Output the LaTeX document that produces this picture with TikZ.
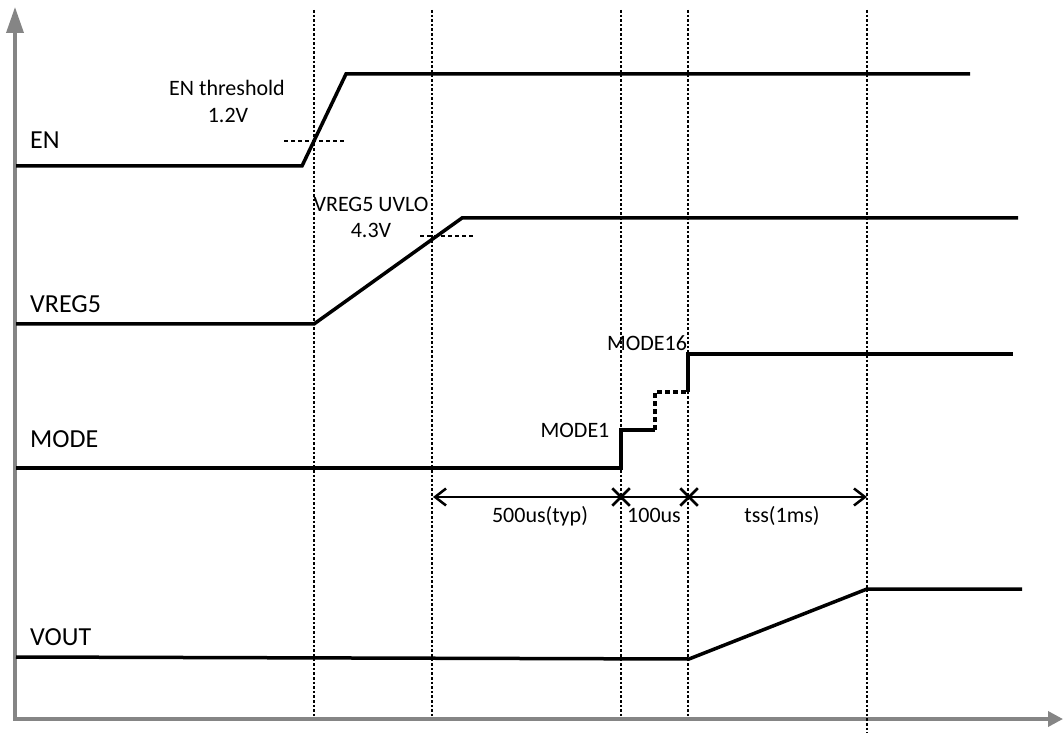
\documentclass[tikz,border=0pt]{standalone}
\usepackage{fontspec}
\setmainfont{Carlito}
\usetikzlibrary{arrows.meta,positioning,calc,shapes.misc}
\definecolor{ink}{HTML}{000000}
\definecolor{axisgray}{HTML}{858585}
\tikzset{
  axis/.style={draw=axisgray, line width=3.5pt, {Triangle[length=26pt,width=17pt]}-{Triangle[length=15pt,width=15pt]}},
  sig/.style={draw=ink, line width=3.5pt, line join=miter},
  sigdash/.style={sig, dash pattern=on 5pt off 3pt},
  grid/.style={draw=ink, line width=2.6pt, dash pattern=on 2.6pt off 2pt},
  thresh/.style={draw=ink, line width=2.2pt, dash pattern=on 4pt off 3pt},
  meas/.style={draw=ink, line width=2.5pt, -{Straight Barb[length=11pt,width=17pt,line width=2.5pt]}},
  measline/.style={draw=ink, line width=2.5pt},
  xmark/.style={draw=ink, cross out, line width=2.5pt, minimum size=15pt, inner sep=0pt},
  signame/.style={font=\fontsize{26}{30}\selectfont, anchor=base west, inner sep=0pt},
  note/.style={font=\fontsize{22}{26}\selectfont, anchor=base, inner sep=0pt}
}

\begin{document}
\begin{tikzpicture}[x=1pt, y=-1pt]
\useasboundingbox (0,0) rectangle (1063,735);
% axes
\coordinate (org) at (15,719);
\draw[axis] (15,7) -- (org) -- (1063,719);
% timing marks
\draw[grid] (314,10) -- (314,716);
\draw[grid] (432,10) -- (432,716);
\draw[grid] (621,10) -- (621,716);
\draw[grid] (688,10) -- (688,716);
\draw[grid] (867,10) -- (867,733);
% signal names
\node[signame] (en) at (30,149) {EN};
\node[signame] (vreg) at (30,313) {VREG5};
\node[signame] (mode) at (30,447) {MODE};
\node[signame] (vout) at (30,645) {VOUT};
% EN
\draw[sig] (16,166) -- (302,166) -- (346,74) -- (970,74);
\draw[thresh] (284,141) -- (346,141);
\node[note] (enth) at (227,96) {EN threshold};
\node[note] (env) at (228,123) {1.2V};
% VREG5
\draw[sig] (16,324) -- (314,324) -- (462,218) -- (1018,218);
\draw[thresh] (420,236) -- (475,236);
\node[note] (uvlo) at (371,212) {VREG5 UVLO};
\node[note] (uvlov) at (371,238) {4.3V};
% MODE
\draw[sig] (16,468) -- (621,468) -- (621,430) -- (655,430);
\draw[sigdash] (655,430) -- (655,392) -- (688,392);
\draw[sig] (688,392) -- (688,354) -- (1013,354);
\node[note] (m1lbl) at (575,437) {MODE1};
\node[note] (m16lbl) at (647,351) {MODE16};
% VOUT
\draw[sig] (16,657) -- (689,659) -- (867,589) -- (1022,589);
% delays
\coordinate (d0) at (433,497);
\coordinate (d1) at (621,497);
\coordinate (d2) at (689,497);
\coordinate (d3) at (867,497);
\draw[meas] (d1) -- (d0);
\draw[measline] (d1) -- (d2);
\draw[meas] (d2) -- (d3);
\node[xmark] (x1) at (d1) {};
\node[xmark] (x2) at (d2) {};
\node[note] (t500) at (540,522) {500us(typ)};
\node[note] (t100) at (654,522) {100us};
\node[note] (tss) at (782,522) {tss(1ms)};
\end{tikzpicture}
\end{document}
